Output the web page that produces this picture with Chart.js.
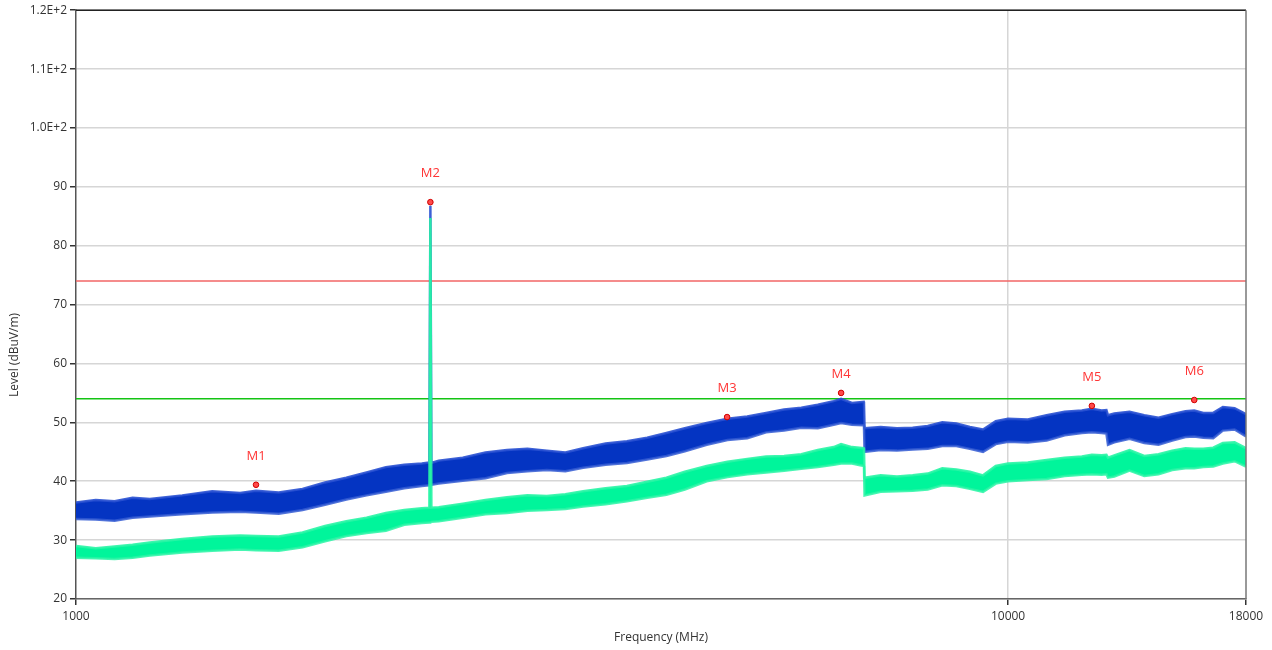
<!doctype html>
<html><head>
<meta charset="utf-8">
<title>Radiated emission scan</title>
<script src="https://cdn.jsdelivr.net/npm/chart.js"></script>
<style type="text/css">
  body { margin: 0; background: #fff; }
  #wrap { width: 1272px; height: 650px; }
</style>
</head>
<body>
<div id="wrap"><canvas id="myChart" width="1272" height="650"></canvas></div>

<script>
const freqs = [1000,1050,1100,1150,1200,1300,1400,1500,1560,1650,1750,1850,1950,2050,2150,2250,2350,2394,2400,2406,
  2450,2600,2750,2900,3050,3200,3350,3500,3700,3900,4100,4300,4500,4750,5000,5250,5500,5750,6000,6250,
  6500,6620,6800,7000,7005,7015,7300,7600,7900,8200,8500,8800,9100,9400,9700,10000,10500,11000,11500,12000,
  12300,12600,12750,12800,13000,13500,14000,14500,15000,15500,15840,16200,16600,17000,17500,18000];

// peak trace (blue) upper / lower edge of the noise band, dBuV/m
const peakHi = [36.4,36.8,36.6,37.2,37.0,37.6,38.3,38.0,38.4,38.1,38.7,39.8,40.6,41.5,42.4,42.8,43.0,43.2,86.8,43.1,
  43.5,44.0,44.9,45.3,45.5,45.2,44.9,45.6,46.4,46.8,47.4,48.2,49.0,49.9,50.6,51.0,51.6,52.2,52.5,53.0,
  53.6,54.0,53.3,53.5,53.2,49.0,49.2,49.0,49.1,49.4,50.0,49.8,49.2,48.8,50.2,50.6,50.5,51.2,51.8,52.0,
  52.3,52.0,52.1,51.2,51.5,51.8,51.2,50.8,51.4,51.9,52.0,51.6,51.6,52.6,52.4,51.4];
const peakLo = [33.6,33.5,33.3,33.8,34.0,34.4,34.7,34.8,34.7,34.5,35.1,36.0,36.9,37.6,38.2,38.8,39.2,39.3,39.3,39.4,
  39.6,40.1,40.5,41.4,41.7,41.9,41.7,42.3,42.8,43.1,43.7,44.3,45.1,46.2,47.0,47.3,48.3,48.6,49.1,49.0,
  49.6,49.9,49.6,49.5,49.4,45.0,45.3,45.2,45.4,45.5,46.0,46.0,45.5,45.0,46.3,46.7,46.6,46.9,47.8,48.2,
  48.3,48.2,48.1,46.2,46.6,47.2,46.5,46.2,46.9,47.5,47.6,47.4,47.3,48.6,48.8,47.6];

// average trace (green)
const avgHi = [29.0,28.6,28.9,29.2,29.6,30.2,30.6,30.8,30.7,30.6,31.3,32.4,33.2,33.8,34.6,35.1,35.4,35.5,84.7,35.5,
  35.6,36.2,36.8,37.3,37.6,37.5,37.8,38.3,38.8,39.2,39.9,40.6,41.6,42.6,43.3,43.8,44.2,44.3,44.6,45.3,
  45.8,46.3,45.8,45.6,45.5,40.6,41.0,40.8,41.0,41.3,42.2,42.0,41.6,41.0,42.6,43.0,43.2,43.6,44.0,44.2,
  44.5,44.4,44.5,44.0,44.4,45.3,44.3,44.6,45.2,45.6,45.5,45.5,45.7,46.5,46.6,45.6];
const avgLo = [27.0,26.9,26.8,27.0,27.4,27.9,28.2,28.4,28.3,28.2,28.8,29.8,30.7,31.2,31.6,32.6,32.9,33.0,33.0,33.1,
  33.2,33.8,34.4,34.6,35.0,35.1,35.3,35.7,36.1,36.6,37.2,37.7,38.6,40.0,40.7,41.2,41.5,41.8,42.1,42.4,
  42.8,43.0,43.0,42.6,42.5,37.6,38.2,38.3,38.4,38.6,39.3,39.2,38.7,38.2,39.6,40.0,40.2,40.4,40.9,41.1,
  41.2,41.1,41.2,40.6,40.8,41.8,40.9,41.2,41.9,42.2,42.2,42.4,42.5,43.0,43.4,42.5];

// limit lines
const limitFreqs = [1000, 18000];
const peakLimit = [74, 74];
const avgLimit = [54, 54];

// markers
const markerNames = ['M1','M2','M3','M4','M5','M6'];
const markerFreqs = [1560, 2400, 4995, 6620, 12300, 15840];
const markerLevels = [39.4, 87.4, 50.9, 55.0, 52.8, 53.8];

// axis ticks
const xTicks = [1000, 10000, 18000];
const yTicks = [20,30,40,50,60,70,80,90,100,110,120];
const yTickLabels = ['20','30','40','50','60','70','80','90','1.0E+2','1.1E+2','1.2E+2'];

function pts(xs, ys) {
  return xs.map(function (x, i) { return { x: x, y: ys[i] }; });
}

const FONT = '"Open Sans", "Liberation Sans", sans-serif';
const labelLift = [28, 29, 29, 19, 29, 29];

// axis titles, marker labels and the top/right frame
const extras = {
  id: 'extras',
  afterDatasetsDraw(chart) {
    const ctx = chart.ctx, a = chart.chartArea;
    const sx = chart.scales.x, sy = chart.scales.y;
    ctx.save();
    ctx.lineWidth = 1.5;
    ctx.strokeStyle = '#222';
    ctx.beginPath(); ctx.moveTo(a.left, a.top); ctx.lineTo(a.right, a.top); ctx.stroke();
    ctx.strokeStyle = '#777';
    ctx.beginPath(); ctx.moveTo(a.right, a.top); ctx.lineTo(a.right, a.bottom); ctx.stroke();

    ctx.font = '13px ' + FONT;
    ctx.fillStyle = '#ff3535';
    ctx.textAlign = 'center';
    ctx.textBaseline = 'middle';
    markerNames.forEach(function (n, i) {
      const px = sx.getPixelForValue(markerFreqs[i]);
      const py = sy.getPixelForValue(markerLevels[i]);
      ctx.fillText(n, px, py - labelLift[i]);
    });

    ctx.font = '12px ' + FONT;
    ctx.fillStyle = '#333';
    ctx.fillText('Frequency (MHz)', (a.left + a.right) / 2, 638);
    ctx.translate(15, 355);
    ctx.rotate(-Math.PI / 2);
    ctx.fillText('Level (dBuV/m)', 0, 0);
    ctx.restore();
  }
};

var ctx = document.getElementById('myChart');
var myChart = new Chart(ctx, {
  type: 'line',
  data: {
    datasets: [
      { // 0 markers
        type: 'scatter', data: pts(markerFreqs, markerLevels), order: 0,
        pointRadius: 2.8, pointBackgroundColor: '#ff4a4a', pointBorderColor: '#d00000', pointBorderWidth: 1
      },
      { // 1 avg low edge
        data: pts(freqs, avgLo), order: 2, borderColor: 'rgba(40,245,165,0.85)', borderWidth: 2.5,
        pointRadius: 0, fill: false, tension: 0
      },
      { // 2 avg high edge, filled down to 1
        data: pts(freqs, avgHi), order: 2, borderColor: 'rgba(40,245,165,0.9)', borderWidth: 2.5,
        pointRadius: 0, fill: 1, backgroundColor: '#00f59b', tension: 0
      },
      { // 3 peak low edge
        data: pts(freqs, peakLo), order: 3, borderColor: 'rgba(50,90,210,0.85)', borderWidth: 2.5,
        pointRadius: 0, fill: false, tension: 0
      },
      { // 4 peak high edge, filled down to 3
        data: pts(freqs, peakHi), order: 3, borderColor: 'rgba(40,80,210,0.9)', borderWidth: 2.5,
        pointRadius: 0, fill: 3, backgroundColor: '#0434c2', tension: 0
      },
      { // 5 peak limit
        data: pts(limitFreqs, peakLimit), order: 4, borderColor: '#f26666', borderWidth: 1.5,
        pointRadius: 0, fill: false
      },
      { // 6 average limit
        data: pts(limitFreqs, avgLimit), order: 4, borderColor: '#14c414', borderWidth: 1.5,
        pointRadius: 0, fill: false
      }
    ]
  },
  options: {
    responsive: false,
    animation: false,
    layout: { padding: { left: 0, top: 10, right: 26, bottom: 0 } },
    plugins: { legend: { display: false }, tooltip: { enabled: false } },
    scales: {
      x: {
        type: 'logarithmic', min: 1000, max: 18000,
        afterBuildTicks: function (s) { s.ticks = xTicks.map(function (v) { return { value: v }; }); },
        afterFit: function (s) { s.height = 51; },
        ticks: {
          autoSkip: false, maxRotation: 0, padding: 4, color: '#333',
          font: { family: FONT, size: 12 },
          callback: function (v) { return String(v); }
        },
        grid: {
          color: function (c) { return c.tick && c.tick.value === 10000 ? '#d6d6d6' : 'rgba(0,0,0,0)'; },
          lineWidth: 1.5, tickLength: 6, tickColor: '#333', drawTicks: true
        },
        border: { display: true, color: '#666', width: 1.5 }
      },
      y: {
        min: 20, max: 120,
        afterBuildTicks: function (s) { s.ticks = yTicks.map(function (v) { return { value: v }; }); },
        afterFit: function (s) { s.width = 76; },
        ticks: {
          padding: 3, color: '#333',
          font: { family: FONT, size: 12 },
          callback: function (v) { return yTickLabels[yTicks.indexOf(v)]; }
        },
        grid: { color: '#d6d6d6', lineWidth: 1.5, tickLength: 6, tickColor: '#333' },
        border: { display: true, color: '#555', width: 1.5 }
      }
    }
  },
  plugins: [extras]
});
</script>
</body></html>
